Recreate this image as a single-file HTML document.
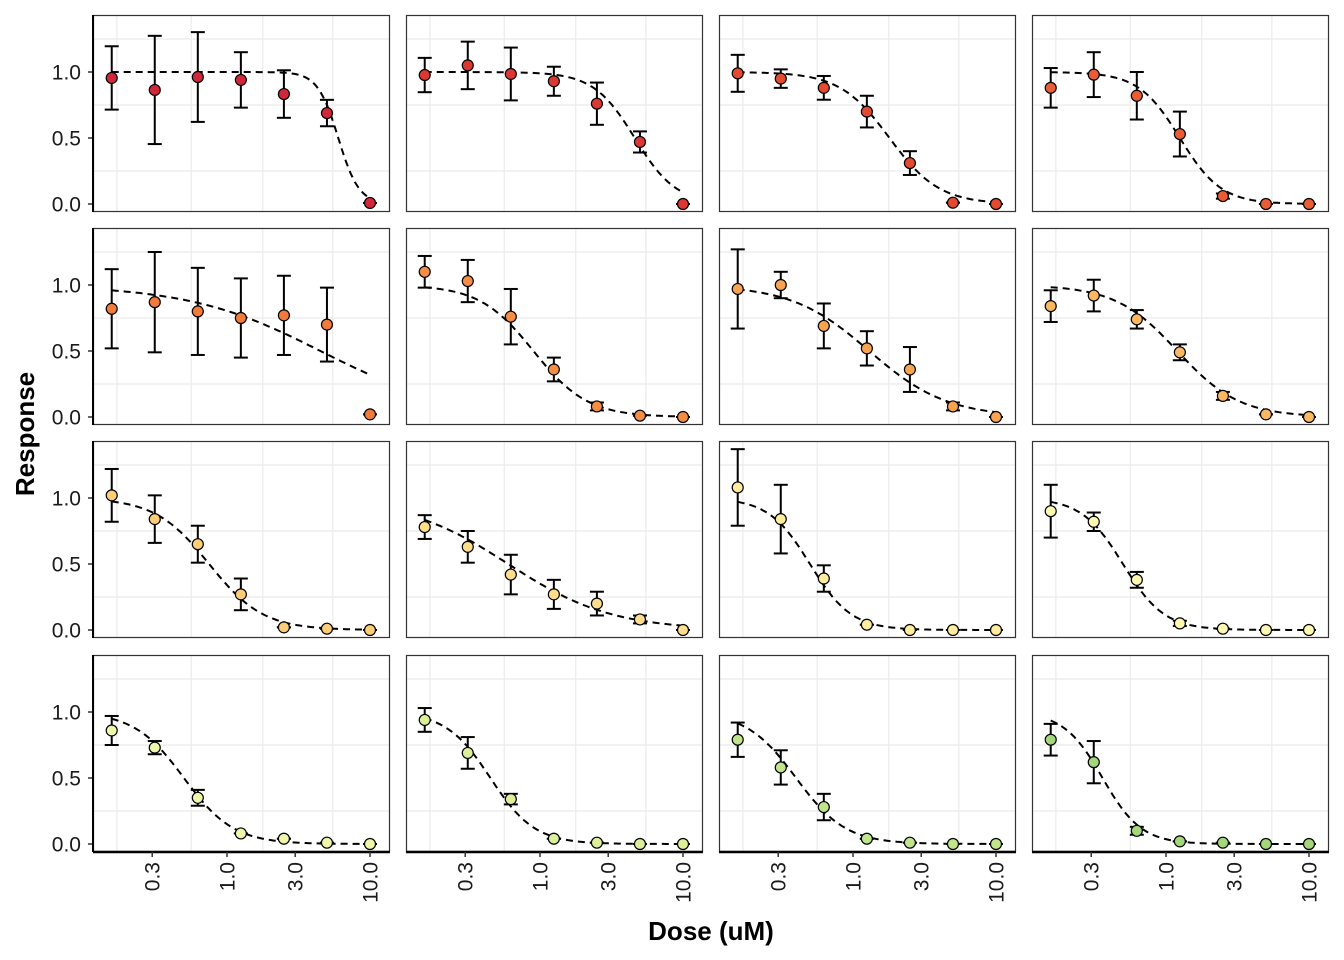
<!DOCTYPE html>
<html><head><meta charset="utf-8"><style>
html,body{margin:0;padding:0;background:#fff}
svg{display:block;font-family:"Liberation Sans",sans-serif}
</style></head><body>
<svg id="chart" width="1344" height="960" viewBox="0 0 1344 960" xmlns="http://www.w3.org/2000/svg"></svg>
<script>
const doses = [0.15625, 0.3125, 0.625, 1.25, 2.5, 5, 10];
const panelMeans = [
 [0.955,0.864,0.962,0.94,0.833,0.689,0.008],
 [0.977,1.05,0.985,0.93,0.76,0.47,0.0],
 [0.99,0.95,0.88,0.70,0.31,0.01,0.0],
 [0.88,0.98,0.82,0.53,0.06,0.0,0.0],
 [0.82,0.87,0.80,0.75,0.77,0.70,0.02],
 [1.10,1.03,0.76,0.36,0.08,0.01,0.0],
 [0.97,1.0,0.69,0.52,0.36,0.08,0.0],
 [0.84,0.92,0.74,0.49,0.16,0.02,0.0],
 [1.02,0.84,0.65,0.27,0.02,0.01,0.0],
 [0.78,0.63,0.42,0.27,0.2,0.08,0.0],
 [1.08,0.84,0.39,0.04,0.0,0.0,0.0],
 [0.90,0.82,0.38,0.05,0.01,0.0,0.0],
 [0.86,0.73,0.35,0.08,0.04,0.01,0.0],
 [0.94,0.69,0.34,0.04,0.01,0.0,0.0],
 [0.79,0.58,0.28,0.04,0.01,0.0,0.0],
 [0.79,0.62,0.10,0.02,0.01,0.0,0.0]
];
const panelErrors = [
 [0.24,0.41,0.34,0.21,0.18,0.10,0.0],
 [0.13,0.18,0.2,0.11,0.16,0.08,0.0],
 [0.14,0.07,0.09,0.12,0.09,0.0,0.0],
 [0.15,0.17,0.18,0.17,0.02,0.0,0.0],
 [0.3,0.38,0.33,0.3,0.3,0.28,0.0],
 [0.12,0.16,0.21,0.09,0.03,0.0,0.0],
 [0.3,0.1,0.17,0.13,0.17,0.03,0.0],
 [0.12,0.12,0.07,0.06,0.03,0.0,0.0],
 [0.2,0.18,0.14,0.12,0.0,0.0,0.0],
 [0.09,0.12,0.15,0.11,0.09,0.03,0.0],
 [0.29,0.26,0.1,0.0,0.0,0.0,0.0],
 [0.2,0.07,0.06,0.02,0.0,0.0,0.0],
 [0.11,0.05,0.06,0.0,0.0,0.0,0.0],
 [0.09,0.12,0.04,0.0,0.0,0.0,0.0],
 [0.13,0.13,0.1,0.0,0.0,0.0,0.0],
 [0.12,0.16,0.03,0.0,0.0,0.0,0.0]
];
const fitIC50 = [6,4.6,1.8,1.25,4.5,0.9,1.3,1.2,0.75,0.6,0.5,0.5,0.5,0.45,0.4,0.36];
const fitHill = [6,3,2.5,3,0.94,2.3,1.6,2,2.3,1.2,3,3,2.5,2.8,2.5,3.2];
const panelColors = ["#d0283a","#db3833","#e34a30","#ea5c34","#f07b3b","#f58e45","#f9a450","#fbb862","#fdcd77","#fede8a","#ffec9e","#fff8b2","#f0f7aa","#dcef99","#c1e58a","#a3d77a"];
const yTicks = [0, 0.5, 1.0];
const yTickLabels = ["0.0","0.5","1.0"];
const xTicks = [0.3, 1, 3, 10];
const xTickLabels = ["0.3","1.0","3.0","10.0"];

const NS = "http://www.w3.org/2000/svg";
const svg = document.getElementById('chart');
function mk(tag, attrs, parent){const e=document.createElementNS(NS,tag);for(const k in attrs)e.setAttribute(k,attrs[k]);(parent||svg).appendChild(e);return e;}
const colX=[93,406,719,1032], rowY=[15,228,441,655], PW=297, PH=197;
const PX_DEC=143, YPX=132;
function xs(c,d){return colX[c]+277+PX_DEC*(Math.log10(d)-1);}
function ys(r,v){return rowY[r]+189-YPX*v;}

for(let i=0;i<16;i++){
  const r=Math.floor(i/4), c=i%4;
  const g=mk('g',{});
  
  
  mk('rect',{x:colX[c],y:rowY[r],width:PW,height:PH,fill:'#fff'},g);
  [0.25,0.75,1.25].forEach(v=>mk('line',{x1:colX[c],x2:colX[c]+PW,y1:ys(r,v),y2:ys(r,v),stroke:'#ebebeb','stroke-width':1.2},g));
  [-0.77,-0.25,0.25,0.74].forEach(l=>{const x=xs(c,Math.pow(10,l));mk('line',{x1:x,x2:x,y1:rowY[r],y2:rowY[r]+PH,stroke:'#ebebeb','stroke-width':1.2},g);});
  let dpath='';
  for(let k=0;k<=120;k++){
    const lg=Math.log10(doses[0])+k*(1-Math.log10(doses[0]))/120;
    const d=Math.pow(10,lg);
    const v=1/(1+Math.pow(d/fitIC50[i],fitHill[i]));
    dpath+=(k?'L':'M')+xs(c,d).toFixed(1)+' '+ys(r,v).toFixed(1);
  }
  const cv=mk('path',{d:dpath,fill:'none',stroke:'#000','stroke-width':2,'stroke-dasharray':'7,5'},g);
  
  
  for(let j=0;j<doses.length;j++){
    const x=xs(c,doses[j]), m=panelMeans[i][j], e=panelErrors[i][j];
    const eb=mk('g',{stroke:'#000','stroke-width':2},g);
    
    
    mk('line',{x1:x,x2:x,y1:ys(r,m+e),y2:ys(r,m-e)},eb);
    mk('line',{x1:x-7,x2:x+7,y1:ys(r,m+e),y2:ys(r,m+e)},eb);
    mk('line',{x1:x-7,x2:x+7,y1:ys(r,m-e),y2:ys(r,m-e)},eb);
    const p=mk('circle',{cx:x,cy:ys(r,m),r:5.5,fill:panelColors[i],stroke:'#000','stroke-width':1.2},g);
    
    
  }
  mk('rect',{x:colX[c]+0.5,y:rowY[r]+0.5,width:PW-1,height:PH-1,fill:'none',stroke:'#333','stroke-width':1.2},g);
  if(c===0){
    yTicks.forEach((v,k)=>{
      mk('line',{x1:colX[c]-5,x2:colX[c],y1:ys(r,v),y2:ys(r,v),stroke:'#333','stroke-width':1.5},g);
      const t=mk('text',{x:colX[c]-12,y:ys(r,v)+7.5,'text-anchor':'end','font-size':'21',fill:'#1a1a1a'},g);
      t.textContent=yTickLabels[k];
      
      
    });
    mk('line',{x1:colX[c],x2:colX[c],y1:rowY[r],y2:rowY[r]+PH,stroke:'#000','stroke-width':2},g);
  }
  if(r===3){
    mk('line',{x1:colX[c],x2:colX[c]+PW,y1:rowY[r]+PH,y2:rowY[r]+PH,stroke:'#000','stroke-width':2.5},g);
    xTicks.forEach((v,k)=>{
      const x=xs(c,v);
      mk('line',{x1:x,x2:x,y1:rowY[r]+PH,y2:rowY[r]+PH+5,stroke:'#333','stroke-width':1.5},g);
      const t=mk('text',{x:0,y:0,'text-anchor':'end','font-size':'21',fill:'#1a1a1a',transform:`translate(${x+7.5},${rowY[r]+PH+10}) rotate(-90)`},g);
      t.textContent=xTickLabels[k];
      
      
    });
  }
}
const xt=mk('text',{x:711,y:940,'text-anchor':'middle','font-size':'26','font-weight':'bold',fill:'#000'});
xt.textContent='Dose (uM)';


const yt=mk('text',{x:0,y:0,'text-anchor':'middle','font-size':'26','font-weight':'bold',fill:'#000',transform:'translate(34,434) rotate(-90)'});
yt.textContent='Response';


</script>
</body></html>
